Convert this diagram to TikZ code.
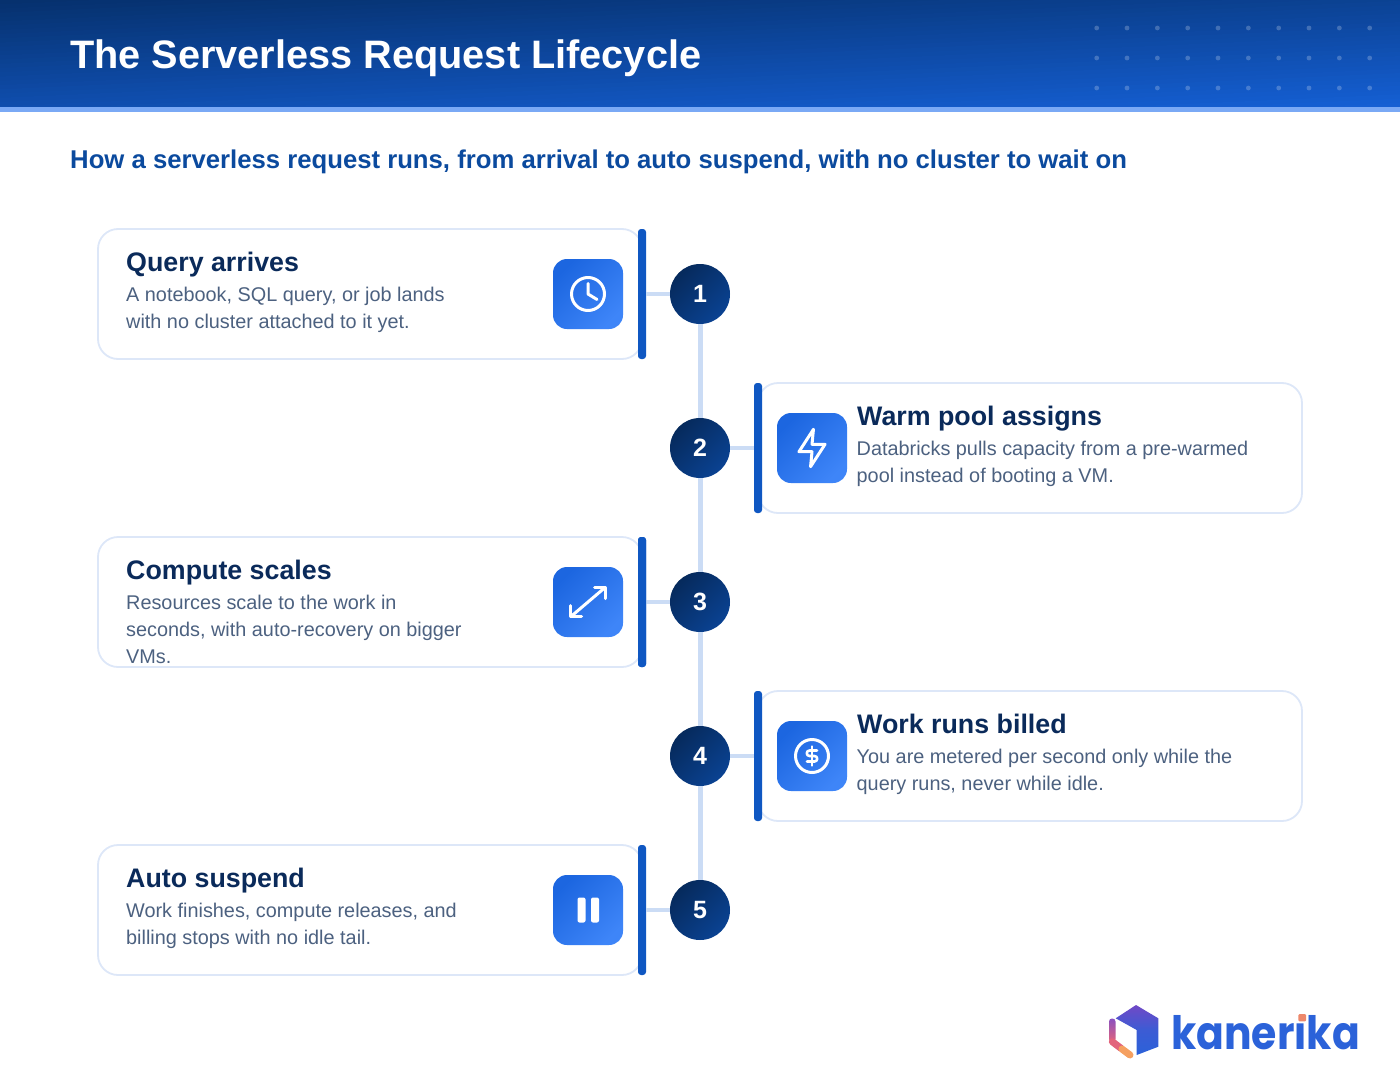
\documentclass[tikz,border=0pt]{standalone}
\usepackage{fontspec}
\setmainfont{Liberation Sans}
\newfontfamily\logofont{Poppins}

\definecolor{hdrdark}{HTML}{06316E}
\definecolor{hdrlight}{HTML}{1560D6}
\definecolor{hdrstrip}{HTML}{7AA9F5}
\definecolor{subblue}{HTML}{0B4A9E}
\definecolor{navy}{HTML}{0A2A5A}
\definecolor{slate}{HTML}{4C6180}
\definecolor{edgeblue}{HTML}{DDE7F8}
\definecolor{spineblue}{HTML}{CBDCF5}
\definecolor{barblue}{HTML}{0F57C2}
\definecolor{tiletop}{HTML}{1C66E0}
\definecolor{tilebot}{HTML}{3E85F8}
\definecolor{numtop}{HTML}{062A5C}
\definecolor{numbot}{HTML}{0A4292}
\definecolor{logoblue}{HTML}{2B62D9}
\definecolor{logoviolet}{HTML}{7049C6}
\definecolor{logopurple}{HTML}{8A50C0}
\definecolor{logosalmon}{HTML}{E2647C}
\definecolor{logoorange}{HTML}{F5A060}

\tikzset{
  card/.style={draw=edgeblue, line width=1.8pt, fill=white, rounded corners=20pt,
    minimum width=544pt, minimum height=130pt, inner sep=0pt},
  accentbar/.style={fill=barblue, rounded corners=3pt,
    minimum width=8pt, minimum height=130pt, inner sep=0pt},
  tile/.style={rounded corners=14pt, minimum size=70pt, inner sep=0pt,
    shade, shading=axis, left color=tiletop, right color=tilebot, shading angle=45},
  numdot/.style={circle, minimum size=60pt, inner sep=0pt, text=white,
    font=\fontsize{25}{25}\selectfont\bfseries,
    shade, shading=axis, left color=numtop, right color=numbot, shading angle=45},
  spine/.style={spineblue, line width=5pt},
  stub/.style={spineblue, line width=4pt},
  headtext/.style={anchor=base west, inner sep=0pt, text=navy,
    font=\fontsize{26.8}{27}\selectfont\bfseries},
  bodytext/.style={anchor=north west, inner sep=0pt, text=slate, align=left,
    font=\fontsize{19.85}{27}\selectfont},
  glyph/.style={white, line width=3pt, line cap=round, line join=round},
}

\begin{document}
\begin{tikzpicture}[x=1pt, y=-1pt]
  \useasboundingbox (0,0) rectangle (1400,1092);

  % Draw the header band
  \begin{scope}
    \clip (0,0) rectangle (1400,107);
    \foreach \i in {0,...,40} {
      \pgfmathsetmacro{\pct}{\i*2.5}
      \pgfmathsetmacro{\ya}{\i*4.25}
      \fill[hdrlight!\pct!hdrdark] (0,\ya) -- (1400,\ya-63) -- (1400,107) -- (0,107) -- cycle;
    }
  \end{scope}
  \fill[hdrstrip] (0,107) rectangle (1400,112);

  % Dots on the header
  \foreach \row in {28,58,88} {
    \foreach \col in {0,...,9} {
      \fill[white, opacity=0.22] (1096.7+\col*30.33,\row) circle (2.4pt);
    }
  }

  \node[anchor=base west, inner sep=0pt, text=white,
    font=\fontsize{39.7}{40}\selectfont\bfseries] (title) at (70,68) {The Serverless Request Lifecycle};
  \node[anchor=base west, inner sep=0pt, text=subblue,
    font=\fontsize{25.7}{27}\selectfont\bfseries] (subtitle) at (70,168)
    {How a serverless request runs, from arrival to auto suspend, with no cluster to wait on};

  % Number circles
  \node[numdot] (num1) at (700,294) {1};
  \node[numdot] (num2) at (700,448) {2};
  \node[numdot] (num3) at (700,602) {3};
  \node[numdot] (num4) at (700,756) {4};
  \node[numdot] (num5) at (700,910) {5};

  % Cards and their bars
  \node[card] (card1) at (370,294) {};
  \node[card] (card2) at (1030,448) {};
  \node[card] (card4) at (1030,756) {};
  \node[card] (card5) at (370,910) {};
  \node[accentbar] (bar1) at (642,294) {};
  \node[accentbar] (bar2) at (758,448) {};
  \node[accentbar] (bar3) at (642,602) {};
  \node[accentbar] (bar4) at (758,756) {};
  \node[accentbar] (bar5) at (642,910) {};

  % The line down the middle
  \draw[spine] (num1) -- (num2);
  \draw[spine] (num2) -- (num3);
  \draw[spine] (num3) -- (num4);
  \draw[spine] (num4) -- (num5);

  \draw[stub] (bar1) -- (num1);
  \draw[stub] (num2) -- (bar2);
  \draw[stub] (bar3) -- (num3);
  \draw[stub] (num4) -- (bar4);
  \draw[stub] (bar5) -- (num5);

  % Card texts
  \node[headtext] (head1) at (126,271) {Query arrives};
  \node[bodytext] (text1) at (126,286.5) {A notebook, SQL query, or job lands\\with no cluster attached to it yet.};

  \node[headtext] (head2) at (857,425) {Warm pool assigns};
  \node[bodytext] (text2) at (856.5,440.5) {Databricks pulls capacity from a pre-warmed\\pool instead of booting a VM.};

  \node[headtext] (head3) at (126,579) {Compute scales};
  \node[bodytext] (text3) at (126,594.5) {Resources scale to the work in\\seconds, with auto-recovery on bigger\\VMs.};
  % this one is drawn after its text, the last line runs into the border
  \node[card, fill=none] (card3) at (370,602) {};
  \node[accentbar] at (bar3.center) {};

  \node[headtext] (head4) at (857,733) {Work runs billed};
  \node[bodytext] (text4) at (856.5,748.5) {You are metered per second only while the\\query runs, never while idle.};

  \node[headtext] (head5) at (126,887) {Auto suspend};
  \node[bodytext] (text5) at (126,902.5) {Work finishes, compute releases, and\\billing stops with no idle tail.};

  % Icon tiles
  \node[tile] (tile1) at (588,294) {};
  \node[tile] (tile2) at (812,448) {};
  \node[tile] (tile3) at (588,602) {};
  \node[tile] (tile4) at (812,756) {};
  \node[tile] (tile5) at (588,910) {};

  % clock
  \draw[glyph] (tile1.center) circle (16.5pt);
  \draw[glyph] (588,283.5) -- (588,294) -- (597,299.5);

  % bolt
  \begin{scope}[shift={(tile2.center)}, x=1.45pt, y=-1.87pt]
    \draw[glyph] (1,-10) -- (-9,2) -- (0,2) -- (-1,10) -- (9,-2) -- (0,-2) -- cycle;
  \end{scope}

  % arrows
  \draw[glyph] (570.7,616.7) -- (605.3,587.3);
  \draw[glyph] (594.5,587.3) -- (605.3,587.3) -- (605.3,598.5);
  \draw[glyph] (570.7,605.7) -- (570.7,616.7) -- (581.5,616.7);

  % dollar
  \draw[glyph] (tile4.center) circle (16.5pt);
  \begin{scope}[shift={(tile4.center)}]
    \draw[glyph, line width=2.6pt] (5,-5.5) -- (-2.5,-5.5) arc[start angle=90, end angle=270, radius=2.75pt]
      -- (2.5,0) arc[start angle=90, end angle=-90, radius=2.75pt] -- (-5,5.5);
    \draw[glyph, line width=2.6pt] (0,-9.5) -- (0,9.5);
  \end{scope}

  % pause
  \fill[white, rounded corners=2pt] (577.5,897.5) rectangle (585.5,922.5);
  \fill[white, rounded corners=2pt] (591,897.5) rectangle (599,922.5);

  % Logo
  \shade[top color=logoviolet, bottom color=logoblue, middle color=logoblue!75!logoviolet]
    (1136,1005) -- (1158.3,1018.3) -- (1158.3,1046.7) -- (1136.7,1055) -- (1136.7,1030) -- (1115.7,1018.3) -- cycle;
  \shade[top color=logopurple, bottom color=logosalmon, rounded corners=3pt]
    (1109,1018.5) rectangle (1115.5,1042);
  \draw[line width=7pt, line cap=round, logosalmon] (1112.3,1041.7) -- (1121,1048.3);
  \draw[line width=7pt, line cap=round, logoorange] (1122,1049) -- (1130,1055);
  \node[anchor=base west, inner sep=0pt, text=logoblue, xscale=0.89, transform shape,
    font=\logofont\fontsize{46}{46}\selectfont\bfseries] (logotext) at (1171,1049) {kanerika};
  \fill[white] (1295,1011) rectangle (1308,1021.5);
  \fill[logoorange!60!logosalmon, rounded corners=1pt] (1298.3,1014.2) rectangle (1306,1021.3);
\end{tikzpicture}
\end{document}
